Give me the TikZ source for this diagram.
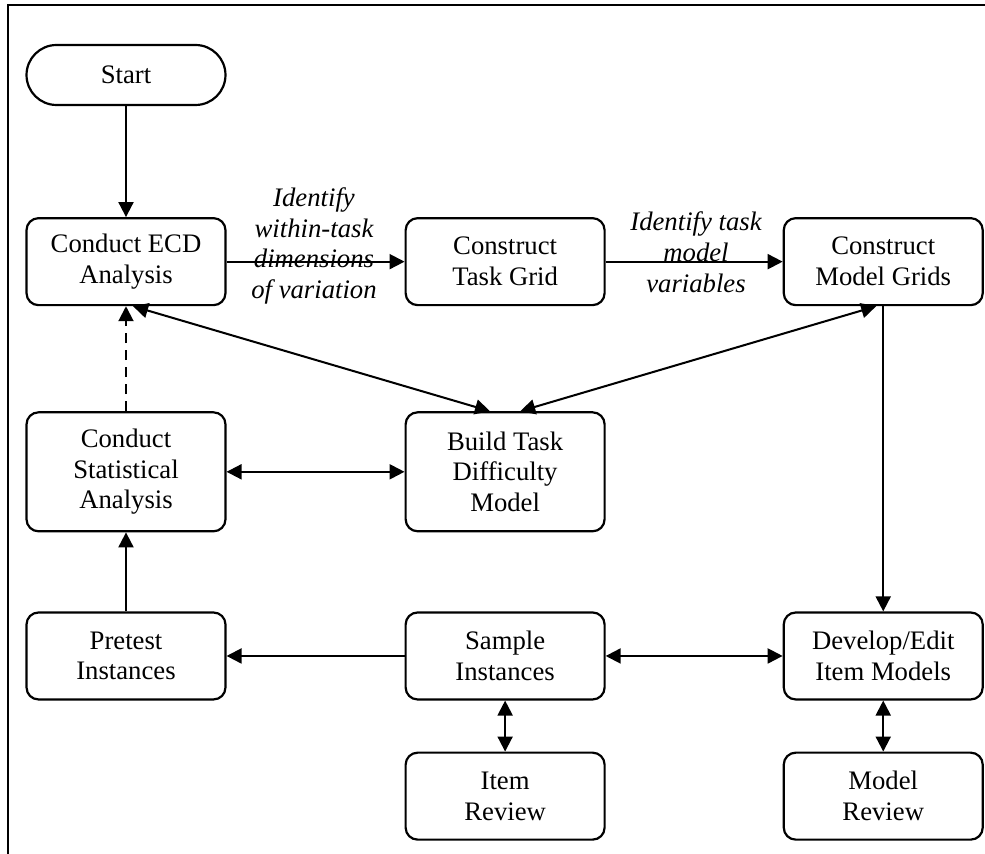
\documentclass[tikz,border=0pt]{standalone}
\usepackage{fontspec}
\setmainfont{Liberation Serif}
\usepackage{tikz}
\usetikzlibrary{positioning, arrows.meta}

\tikzset{
  box/.style={draw, rounded corners=0.24cm, line width=1.25pt, minimum width=3.98cm, minimum height=1.74cm, align=center, font=\fontsize{15.2}{17.5}\selectfont},
  tallbox/.style={box, minimum height=2.38cm},
  pill/.style={box, rounded corners=0.6cm, minimum height=1.2cm},
  arr/.style={line width=1.15pt, -{Triangle[length=0.3cm, width=0.3cm]}},
  dblarr/.style={line width=1.15pt, {Triangle[length=0.3cm, width=0.3cm]}-{Triangle[length=0.3cm, width=0.3cm]}},
  lbl/.style={font=\fontsize{15.2}{17.5}\selectfont\itshape, align=center, inner sep=0pt},
}

\begin{document}
\begin{tikzpicture}[x=0.02cm, y=-0.02cm]
  \useasboundingbox (0,0) rectangle (985,854);
  \draw[line width=1.6pt] (8,854) -- (8,5) -- (985,5);

  \node[pill] (start) at (126,75) {Start};
  \node[box, below=2.22cm of start] (ecd) {Conduct ECD\\Analysis};
  \node[box, right=3.56cm of ecd] (taskgrid) {Construct\\Task Grid};
  \node[box, right=3.54cm of taskgrid] (modelgrids) {Construct\\Model Grids};
  \node[tallbox, below=2.10cm of ecd] (stats) {Conduct\\Statistical\\Analysis};
  \node[tallbox, below=2.10cm of taskgrid] (difficulty) {Build Task\\Difficulty\\Model};
  \node[box, below=1.58cm of stats] (pretest) {Pretest\\Instances};
  \node[box, below=1.58cm of difficulty] (sample) {Sample\\Instances};
  \node[box, right=3.54cm of sample] (develop) {Develop/Edit\\Item Models};
  \node[box, below=1.02cm of sample] (itemreview) {Item\\Review};
  \node[box, below=1.02cm of develop] (modelreview) {Model\\Review};

  \node[lbl] (dimlabel) at (314,246) {Identify\\within-task\\dimensions\\of variation};
  \node[lbl] (varlabel) at (696,252) {Identify task\\model\\variables};

  \draw[arr] (start) -- (ecd);
  \draw[arr] (ecd) -- (taskgrid);
  \draw[arr] (taskgrid) -- (modelgrids);
  \draw[arr] (modelgrids) -- (develop);
  \draw[dblarr] (ecd.-81) -- (difficulty.104);
  \draw[dblarr] (modelgrids.-99) -- (difficulty.76);
  \draw[arr, dash pattern=on 0.2cm off 0.14cm] (stats) -- (ecd);
  \draw[dblarr] (stats) -- (difficulty);
  \draw[arr] (pretest) -- (stats);
  \draw[arr] (sample) -- (pretest);
  \draw[dblarr] (sample) -- (develop);
  \draw[dblarr] (sample) -- (itemreview);
  \draw[dblarr] (develop) -- (modelreview);
\end{tikzpicture}
\end{document}
